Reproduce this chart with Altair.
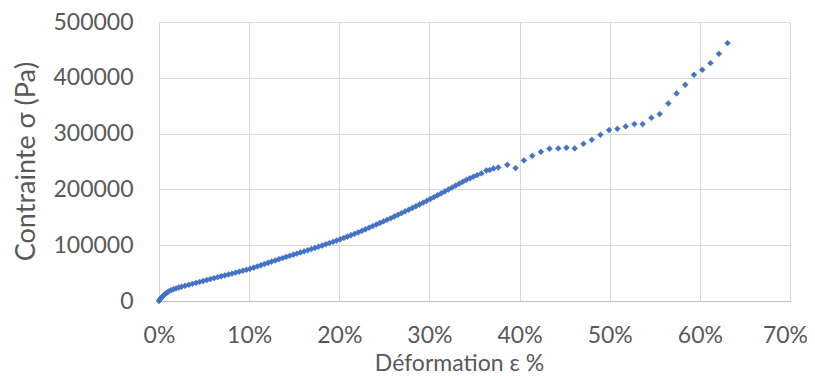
import altair as alt
import pandas as pd

# Strain (%) and stress (Pa)
strain = [0, 0.1, 0.2, 0.35, 0.5, 0.7, 0.9, 1.1, 1.35, 1.6, 1.9, 2.2, 2.5, 2.9, 3.3, 3.7,
          4.1, 4.5, 4.9, 5.3, 5.7, 6.1, 6.5, 6.9, 7.3, 7.7, 8.1, 8.5, 8.9, 9.3, 9.7,
          10.1, 10.5, 10.9, 11.3, 11.7, 12.1, 12.5, 12.9, 13.3, 13.7, 14.1, 14.5, 14.9,
          15.3, 15.7, 16.1, 16.5, 16.9, 17.3, 17.7, 18.1, 18.5, 18.9, 19.3, 19.7, 20.1,
          20.5, 20.9, 21.3, 21.7, 22.1, 22.5, 22.9, 23.3, 23.7, 24.1, 24.5, 24.9, 25.3,
          25.7, 26.1, 26.5, 26.9, 27.3, 27.7, 28.1, 28.5, 28.9, 29.3, 29.7, 30.1, 30.5,
          30.9, 31.3, 31.7, 32.1, 32.5, 32.9, 33.3, 33.7, 34.1, 34.5, 34.9, 35.3,
          35.76, 36.31, 36.68, 37.12, 37.64, 38.64, 39.56, 40.48, 41.41, 42.36, 43.32,
          44.29, 45.2, 46.12, 47.09, 48.01, 48.97, 49.93, 50.85, 51.77, 52.74, 53.65,
          54.62, 55.54, 56.5, 57.42, 58.38, 59.35, 60.27, 61.18, 62.11, 63.07]

stress = [0, 2500, 4800, 7500, 10000, 12800, 15200, 17300, 19400, 21000, 22700, 24200,
          25600, 27300, 29000, 30800, 32500, 34200, 35900, 37600, 39300, 41000, 42700,
          44400, 46000, 47600, 49200, 50900, 52600, 54300, 56000,
          57700, 59800, 61900, 64100, 66300, 68500, 70600, 72700, 74800, 76900, 79000,
          81000, 83000, 85000, 87000, 89000, 91000, 93100, 95200, 97300, 99400, 101600,
          103800, 106000, 108300, 110600, 113000, 115400, 117900, 120400, 123000, 125700,
          128600, 131400, 134200, 137000, 139800, 142600, 145500, 148400, 151400, 154400,
          157400, 160500, 163600, 166700, 169800, 173000, 176200, 179500, 182800, 186100,
          189500, 192900, 196300, 199800, 203300, 206800, 210200, 213700, 217100, 220000,
          222800, 225600,
          228700, 234000, 234600, 237600, 239400, 244100, 238200, 252000, 260200, 267400,
          272800, 273500, 274600, 273500, 281700, 288900, 297800, 306300, 308600, 312900,
          317000, 317000, 328300, 335000, 354100, 372000, 387500, 405400, 414300, 426300,
          443000, 462200]

x_ticks = [0, 10, 20, 30, 40, 50, 60, 70]
y_ticks = [0, 100000, 200000, 300000, 400000, 500000]

df = pd.DataFrame({"strain": strain, "stress": stress})

FONT = "Lato"
TXT = "#595959"

chart = (
    alt.Chart(df)
    .mark_point(shape="diamond", filled=True, size=34, color="#4472C4",
                stroke="#4472C4", strokeWidth=0.6, opacity=1)
    .encode(
        x=alt.X("strain:Q",
                scale=alt.Scale(domain=[0, 70], nice=False, zero=True),
                axis=alt.Axis(values=x_ticks, labelExpr="datum.value + '%'",
                              title="Déformation ε %", ticks=False,
                              labelPadding=41, labelBaseline="alphabetic",
                              labelOffset={"condition": {"test": "datum.value == 70",
                                                         "value": -5},
                                           "value": 0},
                              labelFontSize=23, labelColor=TXT, labelFont=FONT,
                              titleFontSize=23, titleColor=TXT, titleFont=FONT,
                              titleFontWeight="normal", titleX=300, titleY=69,
                              titleAlign="center", titleBaseline="alphabetic",
                              domain=True, domainColor="#BFBFBF", domainWidth=1,
                              grid=True, gridColor="#D9D9D9", gridWidth=1,
                              labelFlush=False, labelOverlap=False)),
        y=alt.Y("stress:Q",
                scale=alt.Scale(domain=[0, 500000], nice=False),
                axis=alt.Axis(values=y_ticks, format="d",
                              title="Contrainte σ (Pa)", ticks=False,
                              labelPadding=26, labelFontSize=23, labelColor=TXT,
                              labelFont=FONT, labelBaseline="middle",
                              titleFontSize=27, titleColor=TXT, titleFont=FONT,
                              titleFontWeight="normal", titleAngle=270,
                              titleX=-125, titleY=139, titleAlign="center",
                              titleBaseline="alphabetic",
                              domain=False, grid=True, gridColor="#D9D9D9",
                              gridWidth=1, labelFlush=False, labelOverlap=False)),
    )
    .properties(width=631, height=279,
                autosize=alt.AutoSizeParams(type="none"),
                padding={"left": 151, "top": 14, "right": 17, "bottom": 75})
    .configure_view(strokeWidth=0)
)

chart.save("out.html", embed_options={"renderer": "svg", "actions": False})
